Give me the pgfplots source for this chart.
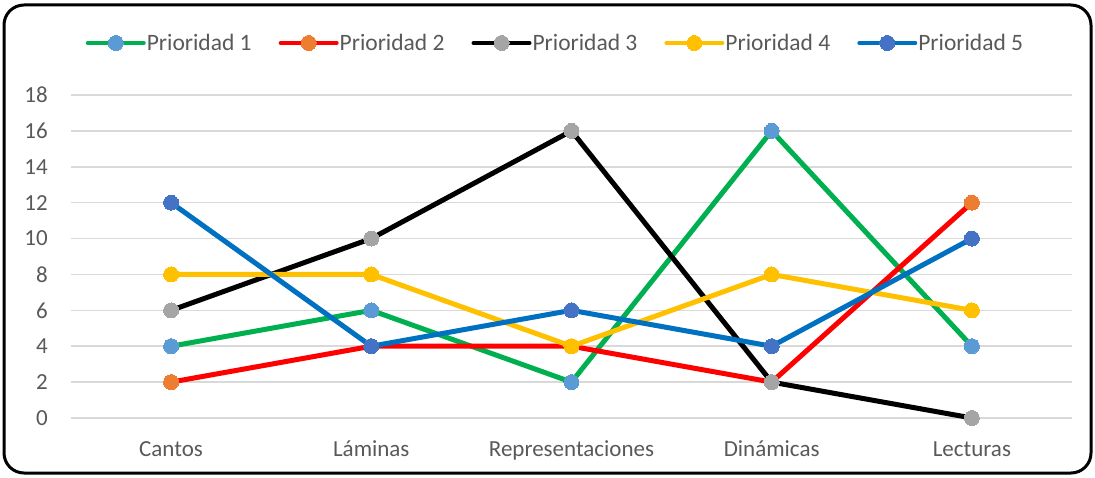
\documentclass[border=0pt]{standalone}
\usepackage{fontspec}
\setmainfont{Carlito}
\usepackage{pgfplots}
\pgfplotsset{compat=1.18}

\definecolor{txt}{HTML}{595959}
\definecolor{gridc}{HTML}{D9D9D9}
\definecolor{lgreen}{HTML}{00B050}
\definecolor{mblue1}{HTML}{5B9BD5}
\definecolor{lred}{HTML}{FF0000}
\definecolor{morange}{HTML}{ED7D31}
\definecolor{mgray}{HTML}{A5A5A5}
\definecolor{lgold}{HTML}{FFC000}
\definecolor{lblue}{HTML}{0070C0}
\definecolor{mblue5}{HTML}{4472C4}

% x: 0 Cantos, 1 Laminas, 2 Representaciones, 3 Dinamicas, 4 Lecturas
\begin{document}
\begin{tikzpicture}[x=1pt,y=1pt]
\useasboundingbox (0,0) rectangle (1095,477);
\draw[line width=3pt, rounded corners=20pt] (4,4) rectangle (1091,472);
\begin{axis}[
    at={(71pt,59pt)}, anchor=south west,
    scale only axis, width=1001pt, height=323pt,
    xmin=-0.5, xmax=4.5, ymin=0, ymax=18,
    xtick={0,1,2,3,4},
    xticklabels={Cantos, Láminas, Representaciones, Dinámicas, Lecturas},
    ytick={0,2,...,18},
    axis line style={draw=none},
    major tick length=0pt,
    ymajorgrids, grid style={draw=gridc, line width=1.5pt},
    font=\fontsize{23.5}{28}\selectfont,
    tick label style={text=txt, font=\fontsize{23}{28}\selectfont},
    /pgf/number format/assume math mode=true,
    yticklabel style={anchor=east, inner sep=0pt, xshift=-23pt},
    xticklabel style={anchor=base, inner sep=0pt, yshift=-38pt},
    clip=false,
    every axis plot/.append style={line width=5pt, line join=round, line cap=round, mark=*, mark size=7.5pt},
    legend columns=5,
    legend style={at={(0.4835,1.161)}, anchor=center, draw=none, fill=none,
        text=txt, font=\fontsize{23.5}{28}\selectfont,
        nodes={inner sep=1pt},
        /tikz/every even column/.append style={column sep=26pt}},
    legend image code/.code={\draw[mark repeat=2,mark phase=2,line width=4pt,#1] plot coordinates {(0pt,0pt) (28pt,0pt) (56pt,0pt)};},
]
\addplot[lgreen, mark options={fill=mblue1, draw=mblue1, line width=0pt}] coordinates {(0,4) (1,6) (2,2) (3,16) (4,4)};
\addlegendentry{Prioridad 1}
\addplot[lred, mark options={fill=morange, draw=morange, line width=0pt}] coordinates {(0,2) (1,4) (2,4) (3,2) (4,12)};
\addlegendentry{Prioridad 2}
\addplot[black, mark options={fill=mgray, draw=mgray, line width=0pt}] coordinates {(0,6) (1,10) (2,16) (3,2) (4,0)};
\addlegendentry{Prioridad 3}
\addplot[lgold, mark options={fill=lgold, draw=lgold, line width=0pt}] coordinates {(0,8) (1,8) (2,4) (3,8) (4,6)};
\addlegendentry{Prioridad 4}
\addplot[lblue, mark options={fill=mblue5, draw=mblue5, line width=0pt}] coordinates {(0,12) (1,4) (2,6) (3,4) (4,10)};
\addlegendentry{Prioridad 5}
\end{axis}
\end{tikzpicture}
\end{document}
